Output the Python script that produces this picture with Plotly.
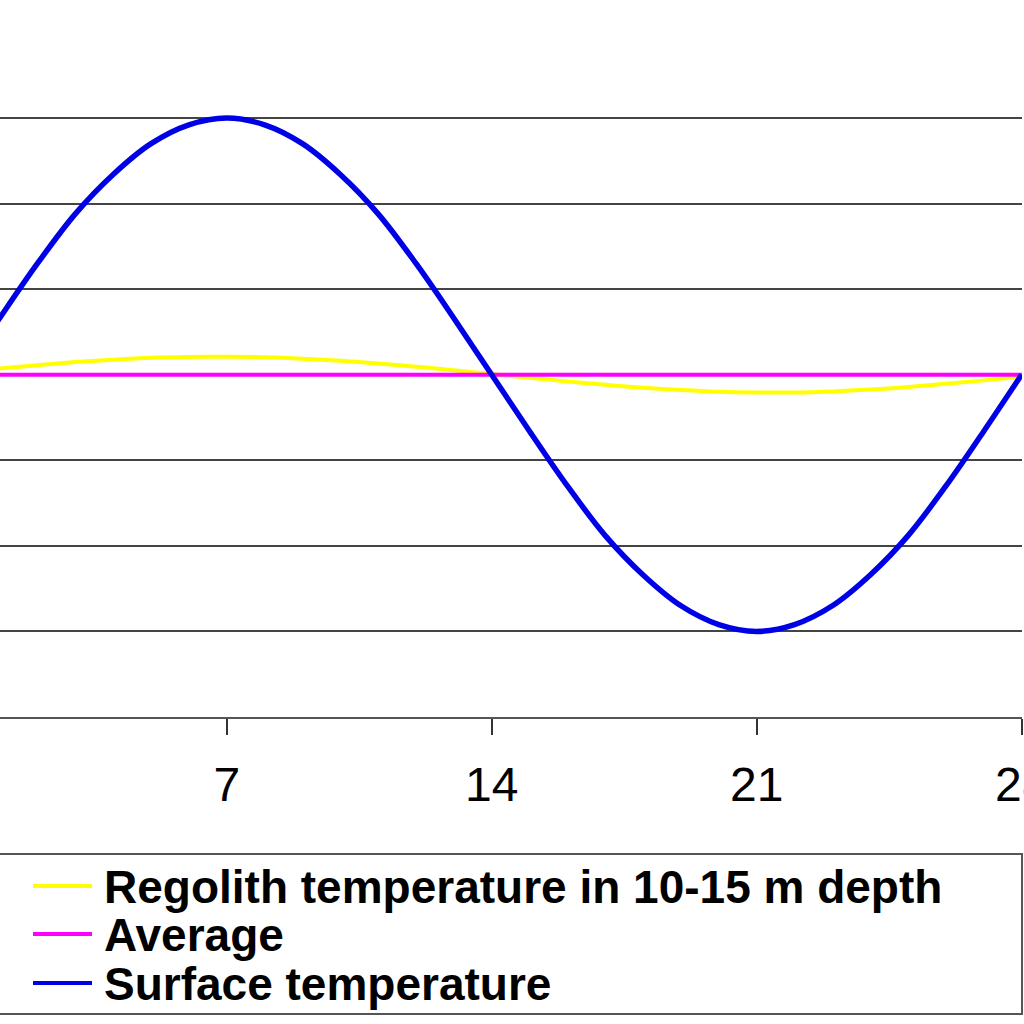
import plotly.graph_objects as go

# ---- data ----
days = list(range(0, 29))
surface_temp = [0, 33, 65, 94, 117, 135, 146, 150, 146, 135, 117, 94, 65, 33, 0,
                -33, -65, -94, -117, -135, -146, -150, -146, -135, -117, -94, -65, -33, 0]
regolith_temp = [1.4, 3.6, 5.6, 7.4, 8.8, 9.9, 10.4, 10.5, 10.2, 9.4, 8.2, 6.6, 4.7, 2.6, 0.4,
                 -1.8, -3.9, -5.9, -7.6, -9.0, -10.0, -10.4, -10.4, -9.8, -8.7, -7.2, -5.3, -3.3, -1.1]
avg_days = [0, 30]
avg_temp = [0, 0]
x_tickvals = [0, 7, 14, 21, 28]
x_ticktext = ["0", "7", "14", "21", "28"]
series_names = ["Regolith temperature in 10-15 m depth", "Average", "Surface temperature"]
series_colors = ["#ffff00", "#ff00ff", "#0000e6"]

W, H = 1024, 1024
PLOT_T = 41        # top edge of plot area (px)
PLOT_R = 1022      # right edge of plot area (px)
PLOT_B = 717       # bottom edge of plot area (px)

def fx(px):
    return px / PLOT_R

def fy(py):
    return (PLOT_B - py) / (PLOT_B - PLOT_T)

FONT = "Liberation Sans, Arial, Helvetica, sans-serif"

fig = go.Figure()
fig.add_trace(go.Scatter(x=days, y=regolith_temp, mode="lines", name=series_names[0],
                         line=dict(color=series_colors[0], width=4, shape="spline"),
                         showlegend=False))
fig.add_trace(go.Scatter(x=avg_days, y=avg_temp, mode="lines", name=series_names[1],
                         line=dict(color=series_colors[1], width=4),
                         showlegend=False))
fig.add_trace(go.Scatter(x=days, y=surface_temp, mode="lines", name=series_names[2],
                         line=dict(color=series_colors[2], width=5.5, shape="spline"),
                         showlegend=False))

# legend box and entries (drawn as shapes + text)
shapes = [dict(type="rect", xref="paper", yref="paper",
               x0=fx(-20), x1=fx(1022), y0=fy(1014), y1=fy(854),
               line=dict(color="#555555", width=2), fillcolor="rgba(0,0,0,0)", layer="above")]
annotations = []
legend_rows = [886, 934, 983]
for name, color, py in zip(series_names, series_colors, legend_rows):
    shapes.append(dict(type="line", xref="paper", yref="paper",
                       x0=fx(33), x1=fx(92), y0=fy(py), y1=fy(py),
                       line=dict(color=color, width=4), layer="above"))
    annotations.append(dict(text=name, xref="paper", yref="paper", x=fx(102), y=fy(py + 1),
                            xanchor="left", yanchor="middle", showarrow=False,
                            font=dict(family=FONT, size=46, color="black", weight="bold")))

fig.update_layout(
    width=W, height=H,
    margin=dict(l=0, r=W - PLOT_R, t=PLOT_T, b=H - PLOT_B, pad=0),
    paper_bgcolor="white", plot_bgcolor="white",
    showlegend=False,
    shapes=shapes, annotations=annotations,
    xaxis=dict(range=[1.01, 28.01], tickvals=x_tickvals, ticktext=x_ticktext,
               showgrid=False, zeroline=False, showline=True, linecolor="#555555", linewidth=2,
               ticks="outside", ticklen=16, tickwidth=2, tickcolor="#333333",
               ticklabelstandoff=8, ticklabeloverflow="allow",
               tickfont=dict(family=FONT, size=48, color="black"),
               automargin=False),
    yaxis=dict(range=[-200, 195], dtick=50, tick0=0, showgrid=True, gridcolor="#444444",
               gridwidth=2, zeroline=False, showticklabels=False, ticks="",
               showline=False, automargin=False),
)

fig.write_html("out.html", config={"displayModeBar": False},
               post_script="document.body.style.margin='0px';document.body.style.overflow='hidden';")
